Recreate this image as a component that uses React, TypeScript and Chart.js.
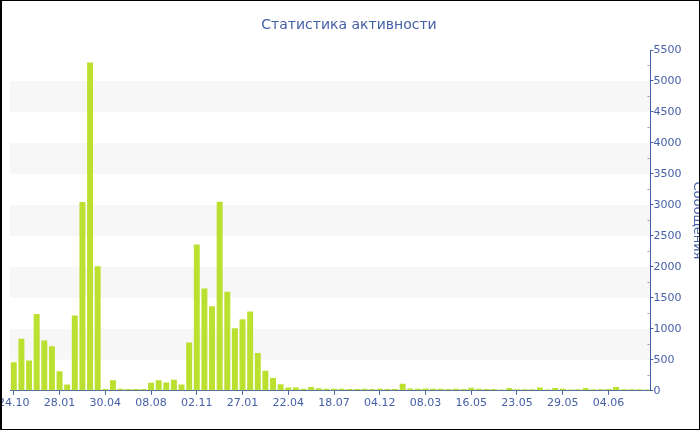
import React, { useEffect, useRef } from 'react';
import { Chart, registerables } from 'chart.js';

Chart.register(...registerables);

const chartTitle = 'Статистика активности';
const yAxisTitle = 'Сообщения';

const tickLabels = [
  '24.10', '28.01', '30.04', '08.08', '02.11', '27.01', '22.04',
  '18.07', '04.12', '08.03', '16.05', '23.05', '29.05', '04.06',
];

const messages = [
  460, 840, 490, 1240, 810, 720, 317, 100, 1215, 3045, 5300, 2010,
  30, 170, 35, 30, 30, 30, 130, 170, 135, 180, 100, 780,
  2360, 1650, 1365, 3050, 1600, 1010, 1155, 1280, 610, 325, 205, 107,
  55, 55, 35, 60, 40, 32, 32, 32, 30, 30, 32, 30,
  32, 30, 30, 115, 38, 32, 38, 32, 32, 30, 32, 30,
  48, 32, 30, 30, 22, 45, 25, 25, 25, 55, 22, 45,
  32, 22, 25, 45, 25, 25, 30, 60, 25, 25, 25, 22,
];

const yMax = 5500;
const yStep = 500;
const bandRanges = [
  [500, 1000],
  [1500, 2000],
  [2500, 3000],
  [3500, 4000],
  [4500, 5000],
];

const labelsPerTick = 6;
const categories = messages.map((_, i) =>
  i % labelsPerTick === 0 ? tickLabels[i / labelsPerTick] ?? '' : ''
);

const BLUE = '#4660a8';
const BAR = '#bce030';
const FONT = 'DejaVu Sans';

const bandsPlugin = {
  id: 'bandsPlugin',
  beforeDraw(chart: any) {
    const { ctx, chartArea, scales } = chart;
    const y = scales.y;
    if (!y || !chartArea) return;
    ctx.save();
    ctx.fillStyle = '#f7f7f7';
    for (const [a, b] of bandRanges) {
      const top = y.getPixelForValue(b);
      const bot = y.getPixelForValue(a);
      ctx.fillRect(chartArea.left, top, chartArea.right - chartArea.left, bot - top);
    }
    ctx.restore();
  },
  afterDraw(chart: any) {
    const { ctx, chartArea, scales } = chart;
    const y = scales.y;
    if (!y || !chartArea) return;
    ctx.save();
    ctx.strokeStyle = '#a8a8a8';
    ctx.lineWidth = 1;
    for (let v = yStep / 2; v < yMax; v += yStep) {
      const py = Math.round(y.getPixelForValue(v)) + 0.5;
      ctx.beginPath();
      ctx.moveTo(chartArea.right - 3, py);
      ctx.lineTo(chartArea.right, py);
      ctx.stroke();
    }
    // chart title, centred on the visible 700px frame
    ctx.fillStyle = BLUE;
    ctx.font = `normal 14px "${FONT}"`;
    ctx.textAlign = 'center';
    ctx.textBaseline = 'middle';
    ctx.fillText(chartTitle, 347, 24);
    ctx.restore();
  },
};

export default function App() {
  const canvasRef = useRef<HTMLCanvasElement | null>(null);

  useEffect(() => {
    document.body.style.margin = '0';
    const canvas = canvasRef.current;
    if (!canvas) return;
    const chart = new Chart(canvas, {
      type: 'bar',
      data: {
        labels: categories,
        datasets: [
          {
            label: yAxisTitle,
            data: messages,
            backgroundColor: BAR,
            borderWidth: 0,
            barPercentage: 0.85,
            categoryPercentage: 0.92,
          },
        ],
      },
      options: {
        animation: false,
        responsive: true,
        maintainAspectRatio: false,
        font: { family: FONT },
        layout: { padding: { left: 8, right: 1, top: 49, bottom: 17 } },
        plugins: {
          legend: { display: false },
          tooltip: { enabled: false },
          title: { display: false },
        },
        scales: {
          x: {
            offset: true,
            grid: {
              display: true,
              drawOnChartArea: false,
              drawTicks: true,
              offset: false,
              tickLength: 4,
              tickColor: (ctx: any) => (ctx.index % labelsPerTick === 0 ? BLUE : 'rgba(0,0,0,0)'),
            },
            border: { display: true, color: BLUE, width: 1 },
            ticks: {
              autoSkip: false,
              maxRotation: 0,
              minRotation: 0,
              padding: 2,
              color: BLUE,
              font: { family: FONT, size: 11 },
            },
            afterFit: (scale: any) => {
              scale.paddingLeft = 0;
              scale.paddingRight = 0;
            },
          },
          y: {
            position: 'right',
            min: 0,
            max: yMax,
            grid: {
              display: true,
              drawOnChartArea: false,
              drawTicks: true,
              tickLength: 3,
              tickColor: BLUE,
            },
            border: { display: true, color: BLUE, width: 1 },
            ticks: {
              stepSize: yStep,
              padding: 0,
              color: BLUE,
              font: { family: FONT, size: 11 },
              callback: (v: any) => String(v),
            },
            title: {
              display: true,
              text: yAxisTitle,
              color: BLUE,
              font: { family: FONT, size: 13, weight: 'normal' },
              padding: { top: 0, bottom: 8 },
            },
          },
        },
      },
      plugins: [bandsPlugin],
    });
    return () => chart.destroy();
  }, []);

  return (
    <div
      style={{
        width: 700,
        height: 430,
        boxSizing: 'border-box',
        border: '1px solid #000',
        borderLeftWidth: 2,
        overflow: 'hidden',
        position: 'relative',
        background: '#fff',
      }}
    >
      <div style={{ position: 'absolute', left: 0, top: 0, width: 704, height: 428 }}>
        <canvas ref={canvasRef} />
      </div>
    </div>
  );
}
